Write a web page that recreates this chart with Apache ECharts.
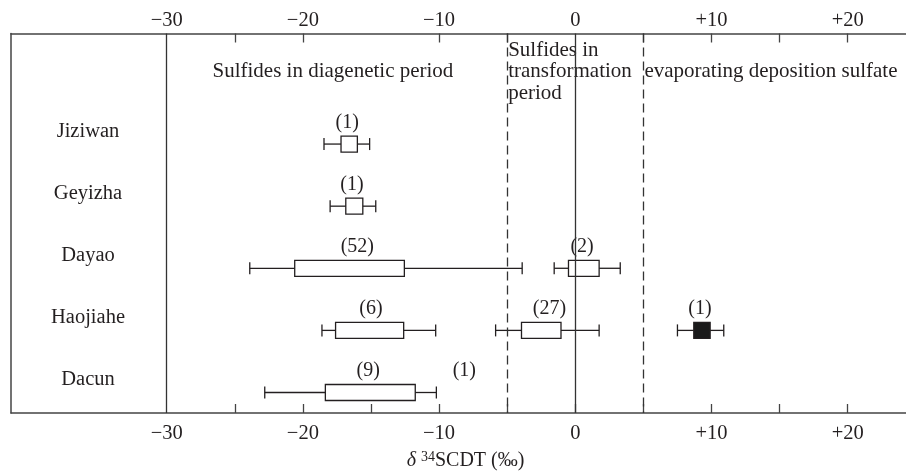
<!DOCTYPE html>
<html>
<head>
<meta charset="utf-8">
<script src="https://cdn.jsdelivr.net/npm/echarts@6/dist/echarts.min.js"></script>
<style>
  html, body { margin: 0; padding: 0; background: #fff; overflow: hidden; }
  #chart { width: 906px; height: 474px; }
</style>
</head>
<body>
<div id="chart"></div>
<script>
// sites (rows, top to bottom)
const siteNames = ['Jiziwan', 'Geyizha', 'Dayao', 'Haojiahe', 'Dacun']

// one entry per box: row number, whisker low, box low, box high, whisker high, filled
const boxRow = [1, 2, 3, 3, 4, 4, 4, 5]
const whiskerLow = [-18.45, -18.0, -23.9, -1.55, -18.6, -5.85, 7.5, -22.8]
const boxLow = [-17.2, -16.85, -20.6, -0.5, -17.6, -3.95, 8.7, -18.35]
const boxHigh = [-16.0, -15.6, -12.55, 1.75, -12.6, -1.05, 9.9, -11.75]
const whiskerHigh = [-15.1, -14.65, -3.9, 3.3, -10.25, 1.75, 10.9, -10.2]
const boxFilled = [0, 0, 0, 0, 0, 0, 1, 0]

// sample counts written above the boxes
const countRow = [1, 2, 3, 3, 4, 4, 4, 5, 5]
const countX = [-16.75, -16.4, -16.0, 0.5, -15.0, -1.9, 9.15, -15.2, -8.15]
const countText = ['(1)', '(1)', '(52)', '(2)', '(6)', '(27)', '(1)', '(9)', '(1)']

// vertical reference lines
const solidLines = [-30, 0]
const dashedLines = [-5, 5]

// axis ticks and labels
const bottomTicks = [-25, -20, -15, -10, -5, 0, 5, 10, 15, 20]
const topTicks = [-25, -20, -10, -5, 5, 10, 15, 20]
const tickLabels = [-30, -20, -10, 0, 10, 20]

const FONT = '"Liberation Serif", "DejaVu Serif", serif'
const INK = '#231f20'

const chart = echarts.init(document.getElementById('chart'))

const fmtTick = v => v > 0 ? '+' + v : (v < 0 ? '\u2212' + Math.abs(v) : '0')

const boxData = boxRow.map((r, i) => [r, whiskerLow[i], boxLow[i], boxHigh[i], whiskerHigh[i], boxFilled[i]])
const countData = countRow.map((r, i) => ({ value: [countX[i], r], name: countText[i] }))

// draws one range box with whiskers
const renderBox = (params, api) => {
  const row = api.value(0)
  const lo = api.coord([api.value(1), row])
  const q1 = api.coord([api.value(2), row])
  const q3 = api.coord([api.value(3), row])
  const hi = api.coord([api.value(4), row])
  const filled = api.value(5) === 1
  const y = lo[1]
  const stroke = { stroke: INK, lineWidth: 1.3, fill: null }
  return {
    type: 'group',
    children: [
      { type: 'line', shape: { x1: lo[0], y1: y, x2: q1[0], y2: y }, style: stroke },
      { type: 'line', shape: { x1: q3[0], y1: y, x2: hi[0], y2: y }, style: stroke },
      { type: 'line', shape: { x1: lo[0], y1: y - 6, x2: lo[0], y2: y + 6 }, style: stroke },
      { type: 'line', shape: { x1: hi[0], y1: y - 6, x2: hi[0], y2: y + 6 }, style: stroke },
      {
        type: 'rect',
        shape: { x: q1[0], y: y - 8, width: q3[0] - q1[0], height: 16 },
        style: { stroke: INK, lineWidth: 1.3, fill: filled ? '#1a1a1a' : null }
      }
    ]
  }
}

const xCommon = {
  type: 'value',
  min: -41.43,
  max: 24.28,
  splitLine: { show: false },
  axisLine: { show: true, onZero: false, lineStyle: { color: '#444', width: 1.5 } },
  axisLabel: {
    customValues: tickLabels,
    formatter: fmtTick,
    color: INK,
    fontFamily: FONT,
    fontSize: 20.5
  }
}

const option = {
  animation: false,
  backgroundColor: '#fff',
  grid: { left: 11, right: 0, top: 33.5, bottom: 61, outerBoundsMode: 'none', containLabel: false },
  xAxis: [
    Object.assign({}, xCommon, {
      position: 'bottom',
      axisTick: { inside: true, length: 9, customValues: bottomTicks, lineStyle: { color: '#444', width: 1.3 } },
      axisLabel: Object.assign({}, xCommon.axisLabel, { margin: 10 }),
      name: '{d|\u03b4} {s|34}SCDT (\u2030)',
      nameLocation: 'middle',
      nameGap: 37,
      nameTextStyle: {
        color: INK,
        fontFamily: FONT,
        fontSize: 20,
        padding: [0, 0, 0, 14],
        rich: {
          d: { fontFamily: FONT, fontStyle: 'italic', fontSize: 20, color: INK },
          s: { fontFamily: FONT, fontSize: 14, color: INK, verticalAlign: 'bottom', padding: [0, 0, 8, 0] }
        }
      }
    }),
    Object.assign({}, xCommon, {
      position: 'top',
      axisTick: { inside: true, length: 9, customValues: topTicks, lineStyle: { color: '#444', width: 1.3 } },
      axisLabel: Object.assign({}, xCommon.axisLabel, { margin: 2 })
    })
  ],
  yAxis: {
    type: 'value',
    inverse: true,
    min: -0.78,
    max: 5.33,
    splitLine: { show: false },
    axisLine: { show: true, onZero: false, lineStyle: { color: '#444', width: 1.5 } },
    axisTick: { show: false },
    axisLabel: {
      inside: true,
      margin: 77,
      align: 'center',
      customValues: [1, 2, 3, 4, 5],
      formatter: v => '{n|' + (siteNames[v - 1] || '') + '}',
      rich: {
        n: { color: INK, fontFamily: FONT, fontSize: 20.5, padding: [0, 0, 25, 0] }
      }
    }
  },
  series: [
    {
      type: 'custom',
      renderItem: renderBox,
      data: boxData,
      encode: { x: [1, 2, 3, 4], y: 0 },
      clip: false,
      z: 3,
      markLine: {
        silent: true,
        symbol: ['none', 'none'],
        label: { show: false },
        data: solidLines.map(v => ({ xAxis: v, lineStyle: { type: 'solid', color: '#333', width: 1.3 } }))
          .concat(dashedLines.map(v => ({ xAxis: v, lineStyle: { type: [9, 5], color: '#333', width: 1.3 } })))
      }
    },
    {
      type: 'scatter',
      symbolSize: 0,
      data: countData,
      z: 4,
      itemStyle: { opacity: 1 },
      label: {
        show: true,
        position: 'inside',
        offset: [0, -21.5],
        formatter: p => p.name,
        color: INK,
        fontFamily: FONT,
        fontSize: 20
      }
    }
  ]
}

chart.setOption(option)

// region captions, placed from the axis scale
const px = v => chart.convertToPixel({ xAxisIndex: 0 }, v)
const textStyle = { fill: INK, font: '21px ' + FONT }
chart.setOption({
  graphic: [
    { type: 'text', x: (px(-30) + px(-5)) / 2 - 4, y: 71, style: Object.assign({ text: 'Sulfides in diagenetic period', align: 'center', verticalAlign: 'middle' }, textStyle) },
    { type: 'text', x: px(-5) + 1, y: 39.5, style: Object.assign({ text: 'Sulfides in\ntransformation\nperiod', align: 'left', verticalAlign: 'top', lineHeight: 21.5 }, textStyle) },
    { type: 'text', x: px(5) + 1, y: 71, style: Object.assign({ text: 'evaporating deposition sulfate', align: 'left', verticalAlign: 'middle' }, textStyle) }
  ]
})
</script>
</body>
</html>
